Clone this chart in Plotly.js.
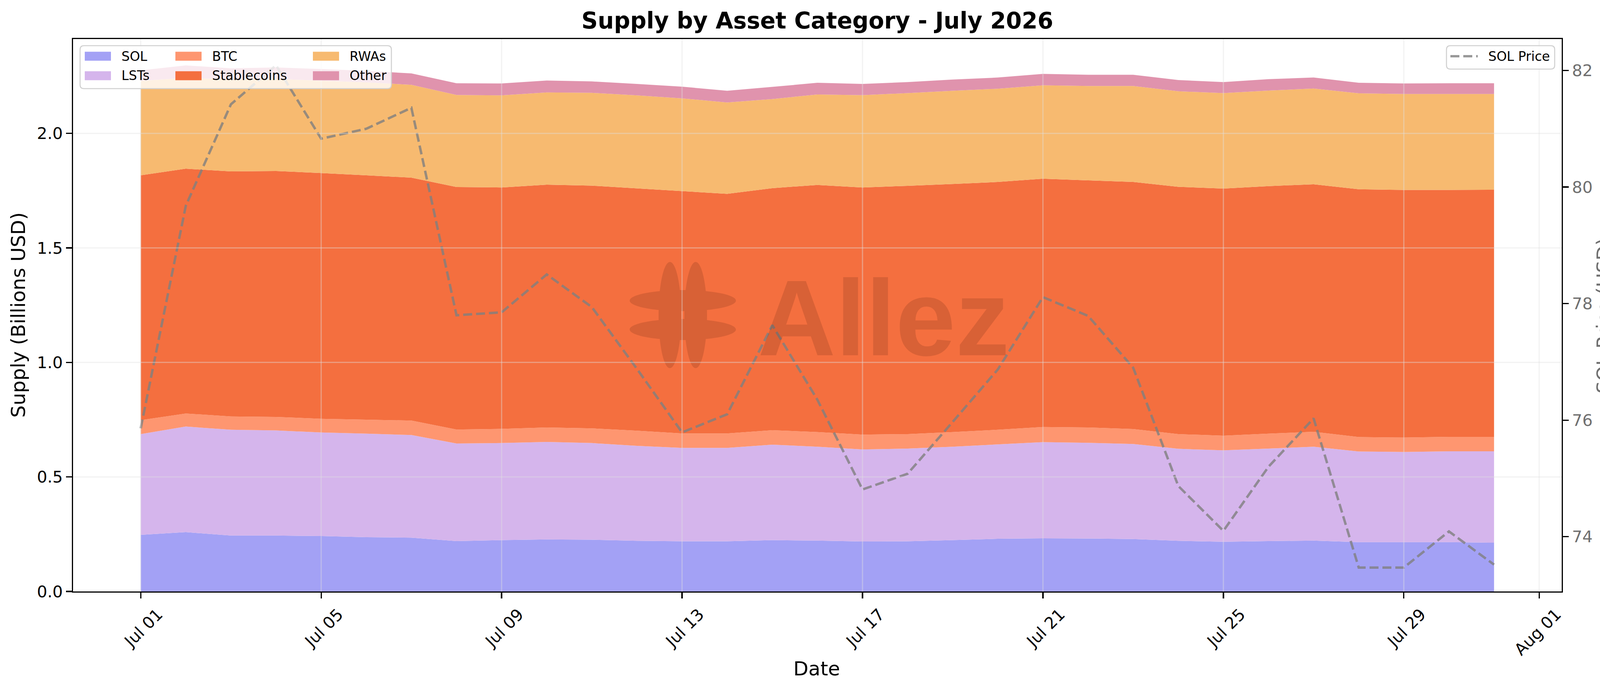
<!DOCTYPE html>
<html>
<head>
<meta charset="utf-8">
<script src="https://cdn.plot.ly/plotly-3.0.1.min.js"></script>
<style>
  html, body { margin: 0; padding: 0; background: #fff; overflow: hidden; }
  #chart { width: 4170px; height: 1770px; }
</style>
</head>
<body>
<div id="chart"></div>
<script>
/* global Plotly */
// daily supply, billions USD, read off the stacked areas
const dates = [
  '2026-07-01', '2026-07-02', '2026-07-03', '2026-07-04', '2026-07-05', '2026-07-06', '2026-07-07',
  '2026-07-08', '2026-07-09', '2026-07-10', '2026-07-11', '2026-07-12', '2026-07-13', '2026-07-14',
  '2026-07-15', '2026-07-16', '2026-07-17', '2026-07-18', '2026-07-19', '2026-07-20', '2026-07-21',
  '2026-07-22', '2026-07-23', '2026-07-24', '2026-07-25', '2026-07-26', '2026-07-27', '2026-07-28',
  '2026-07-29', '2026-07-30', '2026-07-31'
];
const solSupply = [0.247, 0.259, 0.244, 0.244, 0.242, 0.237, 0.235, 0.220, 0.224, 0.227, 0.226, 0.221, 0.219, 0.219, 0.224, 0.222, 0.218, 0.219, 0.224, 0.230, 0.232, 0.231, 0.229, 0.221, 0.217, 0.220, 0.222, 0.215, 0.215, 0.215, 0.213];
const lstSupply = [0.440, 0.461, 0.462, 0.459, 0.452, 0.452, 0.448, 0.426, 0.424, 0.426, 0.422, 0.415, 0.408, 0.408, 0.417, 0.410, 0.402, 0.405, 0.408, 0.412, 0.420, 0.418, 0.415, 0.402, 0.399, 0.404, 0.410, 0.396, 0.394, 0.397, 0.399];
const btcSupply = [0.061, 0.057, 0.058, 0.059, 0.060, 0.061, 0.063, 0.061, 0.062, 0.063, 0.064, 0.066, 0.063, 0.063, 0.063, 0.064, 0.065, 0.063, 0.064, 0.064, 0.066, 0.067, 0.065, 0.064, 0.064, 0.065, 0.065, 0.063, 0.063, 0.063, 0.063];
const stableSupply = [1.069, 1.069, 1.070, 1.074, 1.073, 1.067, 1.061, 1.059, 1.054, 1.060, 1.060, 1.058, 1.058, 1.046, 1.057, 1.079, 1.079, 1.084, 1.083, 1.082, 1.084, 1.079, 1.079, 1.080, 1.079, 1.081, 1.081, 1.082, 1.081, 1.078, 1.079];
const rwaSupply = [0.412, 0.397, 0.401, 0.402, 0.403, 0.406, 0.405, 0.402, 0.402, 0.403, 0.405, 0.406, 0.405, 0.399, 0.389, 0.395, 0.403, 0.405, 0.407, 0.407, 0.408, 0.412, 0.419, 0.417, 0.417, 0.417, 0.418, 0.419, 0.419, 0.419, 0.418];
const otherSupply = [0.046, 0.054, 0.049, 0.050, 0.051, 0.050, 0.050, 0.051, 0.052, 0.052, 0.050, 0.050, 0.051, 0.051, 0.053, 0.051, 0.049, 0.048, 0.049, 0.049, 0.050, 0.049, 0.049, 0.049, 0.048, 0.050, 0.048, 0.046, 0.046, 0.047, 0.047];
const solPrice = [75.86, 79.68, 81.42, 82.09, 80.83, 81.00, 81.36, 77.80, 77.85, 78.50, 77.94, 76.88, 75.79, 76.10, 77.63, 76.35, 74.81, 75.08, 75.97, 76.87, 78.11, 77.79, 76.90, 74.87, 74.10, 75.20, 76.03, 73.47, 73.47, 74.09, 73.52];

const seriesNames = ['SOL', 'LSTs', 'BTC', 'Stablecoins', 'RWAs', 'Other'];
const seriesValues = [solSupply, lstSupply, btcSupply, stableSupply, rwaSupply, otherSupply];
const seriesColors = ['#a3a1f5', '#d5b5ec', '#fe9670', '#f46f3f', '#f7ba70', '#e093ad'];

const tickDates = ['2026-07-01', '2026-07-05', '2026-07-09', '2026-07-13', '2026-07-17', '2026-07-21', '2026-07-25', '2026-07-29', '2026-08-01'];
const tickLabels = ['Jul 01', 'Jul 05', 'Jul 09', 'Jul 13', 'Jul 17', 'Jul 21', 'Jul 25', 'Jul 29', 'Aug 01'];
const supplyTicks = [0, 0.5, 1, 1.5, 2];
const supplyTickLabels = ['0.0', '0.5', '1.0', '1.5', '2.0'];
const priceTicks = [74, 76, 78, 80, 82];

(function () {
  const FONT = 'DejaVu Sans';
  const W = 4170;
  const H = 1770;
  // plot area in page pixels
  const L = 187, R = 3998, T = 100, B = 1515;
  const px = function (x) { return (x - L) / (R - L); };
  const py = function (y) { return (B - y) / (B - T); };
  const pt = function (x, y) { return px(x).toFixed(5) + ',' + py(y).toFixed(5); };

  const GRID = 'rgba(225,225,225,0.42)';
  const SPINE = 3.3;
  const PRICE_GREY = '#6f6f6f';
  const PRICE_LINE = {color: 'rgba(128,128,128,0.8)', width: 6.2, dash: '23px,10px'};

  // stacked areas
  const traces = seriesNames.map(function (name, i) {
    return {
      x: dates,
      y: seriesValues[i],
      name: name,
      type: 'scatter',
      mode: 'none',
      stackgroup: 'supply',
      fillcolor: seriesColors[i],
      showlegend: false,
      hoverinfo: 'x+y+name'
    };
  });

  // price on the twin axis
  traces.push({
    x: dates,
    y: solPrice,
    name: 'SOL Price',
    type: 'scatter',
    mode: 'lines',
    yaxis: 'y2',
    line: PRICE_LINE,
    showlegend: false
  });

  const shapes = [];
  const annotations = [];

  // watermark logo: union of four ellipses, built in pixels then mapped to paper
  const ellipse = function (cx, cy, rx, ry) {
    const k = 0.5523;
    return 'M' + pt(cx + rx, cy) +
      ' C' + pt(cx + rx, cy + k * ry) + ' ' + pt(cx + k * rx, cy + ry) + ' ' + pt(cx, cy + ry) +
      ' C' + pt(cx - k * rx, cy + ry) + ' ' + pt(cx - rx, cy + k * ry) + ' ' + pt(cx - rx, cy) +
      ' C' + pt(cx - rx, cy - k * ry) + ' ' + pt(cx - k * rx, cy - ry) + ' ' + pt(cx, cy - ry) +
      ' C' + pt(cx + k * rx, cy - ry) + ' ' + pt(cx + rx, cy - k * ry) + ' ' + pt(cx + rx, cy) + ' Z';
  };
  const WM = 'rgba(60,20,10,0.15)';
  shapes.push({
    type: 'path',
    xref: 'paper',
    yref: 'paper',
    layer: 'above',
    fillrule: 'nonzero',
    fillcolor: WM,
    line: {width: 0},
    path: ellipse(1715, 807, 29, 136) + ' ' + ellipse(1781, 807, 29, 136) + ' ' +
      ellipse(1748, 770, 136, 27) + ' ' + ellipse(1748, 844, 136, 27)
  });
  annotations.push({
    text: 'Allez',
    xref: 'paper',
    yref: 'paper',
    x: px(2262),
    y: py(814),
    xanchor: 'center',
    yanchor: 'middle',
    showarrow: false,
    font: {family: 'Liberation Sans', size: 276, weight: 'bold', color: WM}
  });

  // grid drawn over the areas, as matplotlib does
  tickDates.forEach(function (d) {
    shapes.push({
      type: 'line', xref: 'x', yref: 'paper', x0: d, x1: d, y0: 0, y1: 1,
      layer: 'above', line: {color: GRID, width: 3}
    });
  });
  supplyTicks.slice(1).forEach(function (v) {
    shapes.push({
      type: 'line', xref: 'paper', yref: 'y', x0: 0, x1: 1, y0: v, y1: v,
      layer: 'above', line: {color: GRID, width: 3}
    });
  });

  // legend boxes
  const roundedBox = function (x0, y0, x1, y1, r) {
    return {
      type: 'path', xref: 'paper', yref: 'paper', layer: 'above',
      path: 'M' + pt(x0 + r, y0) + ' L' + pt(x1 - r, y0) + ' Q' + pt(x1, y0) + ' ' + pt(x1, y0 + r) +
        ' L' + pt(x1, y1 - r) + ' Q' + pt(x1, y1) + ' ' + pt(x1 - r, y1) +
        ' L' + pt(x0 + r, y1) + ' Q' + pt(x0, y1) + ' ' + pt(x0, y1 - r) +
        ' L' + pt(x0, y0 + r) + ' Q' + pt(x0, y0) + ' ' + pt(x0 + r, y0) + ' Z',
      fillcolor: 'rgba(255,255,255,0.8)',
      line: {color: '#d0d0d0', width: 2.6}
    };
  };
  const legendText = function (text, x, y) {
    return {
      text: text, xref: 'paper', yref: 'paper',
      x: px(x), y: py(y), xanchor: 'left', yanchor: 'middle',
      showarrow: false, font: {family: FONT, size: 33.3, color: '#000'}
    };
  };

  // upper left: 3 columns x 2 rows, column-major like matplotlib
  shapes.push(roundedBox(205, 117, 1002, 227, 10));
  const legendCols = [217, 449, 801];
  const legendRows = [144, 194];
  seriesNames.forEach(function (name, i) {
    const x0 = legendCols[Math.floor(i / 2)];
    const yc = legendRows[i % 2];
    shapes.push({
      type: 'rect', xref: 'paper', yref: 'paper', layer: 'above',
      x0: px(x0), x1: px(x0 + 67), y0: py(yc + 11.5), y1: py(yc - 11.5),
      fillcolor: seriesColors[i], line: {width: 0}
    });
    annotations.push(legendText(name, x0 + 92, yc));
  });

  // upper right: price line
  shapes.push(roundedBox(3703, 117, 3980, 177, 10));
  shapes.push({
    type: 'line', xref: 'paper', yref: 'paper', layer: 'above',
    x0: px(3713), x1: px(3783), y0: py(144), y1: py(144),
    line: PRICE_LINE
  });
  annotations.push(legendText('SOL Price', 3808, 144));

  // axis titles
  const axisTitle = function (text, x, y, angle, color) {
    return {
      text: text, xref: 'paper', yref: 'paper',
      x: px(x), y: py(y), xanchor: 'center', yanchor: 'middle',
      textangle: angle, showarrow: false,
      font: {family: FONT, size: 50, color: color}
    };
  };
  annotations.push(axisTitle('Date', 2091, 1713, 0, '#000'));
  annotations.push(axisTitle('Supply (Billions USD)', 47, 807, -90, '#000'));
  annotations.push(axisTitle('SOL Price (USD)', 4106, 809, -90, PRICE_GREY));

  const axisBase = {
    ticks: 'outside',
    ticklen: 14.6,
    tickwidth: SPINE,
    tickcolor: '#000',
    showline: true,
    linecolor: '#000',
    linewidth: SPINE,
    showgrid: false,
    zeroline: false,
    tickmode: 'array'
  };

  const layout = {
    width: W,
    height: H,
    margin: {l: L, r: W - R, t: T, b: H - B, pad: 0},
    paper_bgcolor: '#ffffff',
    plot_bgcolor: '#ffffff',
    font: {family: FONT, size: 41.7, color: '#000'},
    title: {
      text: 'Supply by Asset Category - July 2026',
      font: {family: FONT, size: 58, weight: 'bold', color: '#000'},
      x: 0.5,
      xref: 'paper',
      xanchor: 'center',
      y: 1 - 53 / H,
      yref: 'container',
      yanchor: 'middle'
    },
    xaxis: Object.assign({}, axisBase, {
      type: 'date',
      range: ['2026-06-29 12:00', '2026-08-01 12:00'],
      tickvals: tickDates,
      ticktext: tickLabels,
      tickangle: -45,
      ticklabelshift: 44,
      mirror: true,
      tickfont: {family: FONT, size: 41.7, color: '#000'}
    }),
    yaxis: Object.assign({}, axisBase, {
      range: [0, 2.412],
      tickvals: supplyTicks,
      ticktext: supplyTickLabels,
      tickfont: {family: FONT, size: 41.7, color: '#000'}
    }),
    yaxis2: Object.assign({}, axisBase, {
      overlaying: 'y',
      side: 'right',
      range: [73.06, 82.54],
      tickvals: priceTicks,
      tickfont: {family: FONT, size: 41.7, color: PRICE_GREY}
    }),
    showlegend: false,
    shapes: shapes,
    annotations: annotations
  };

  Plotly.newPlot('chart', traces, layout, {staticPlot: true, displayModeBar: false});
})();
</script>
</body>
</html>
